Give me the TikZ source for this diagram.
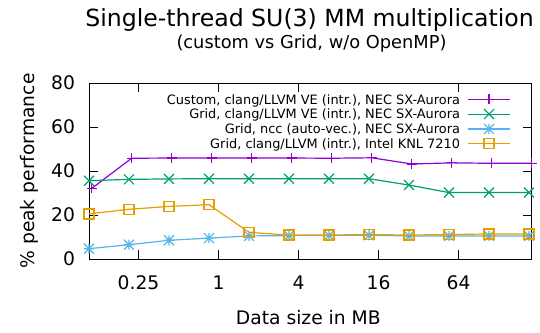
\documentclass[tikz,border=0pt]{standalone}
\usepackage{fontspec}
\setmainfont{DejaVu Sans}
\usetikzlibrary{plotmarks}

\definecolor{gpviolet}{HTML}{9400D3}
\definecolor{gpgreen}{HTML}{009E73}
\definecolor{gpblue}{HTML}{56B4E9}
\definecolor{gporange}{HTML}{E69F00}

\pgfdeclareplotmark{gpstar}{%
  \pgfpathmoveto{\pgfqpoint{-\pgfplotmarksize}{0pt}}%
  \pgfpathlineto{\pgfqpoint{\pgfplotmarksize}{0pt}}%
  \pgfpathmoveto{\pgfqpoint{0pt}{-\pgfplotmarksize}}%
  \pgfpathlineto{\pgfqpoint{0pt}{\pgfplotmarksize}}%
  \pgfpathmoveto{\pgfqpoint{-\pgfplotmarksize}{-\pgfplotmarksize}}%
  \pgfpathlineto{\pgfqpoint{\pgfplotmarksize}{\pgfplotmarksize}}%
  \pgfpathmoveto{\pgfqpoint{-\pgfplotmarksize}{\pgfplotmarksize}}%
  \pgfpathlineto{\pgfqpoint{\pgfplotmarksize}{-\pgfplotmarksize}}%
  \pgfusepathqstroke}

\begin{document}
\begin{tikzpicture}[
x=1pt, y=-1pt,
every node/.style={
inner sep=0pt,
outer sep=0pt
},
ticklabel/.style={font=\fontsize{18.7}{22}\selectfont},
keylabel/.style={font=\fontsize{12.9}{15}\selectfont, anchor=base east},
custom/.style={gpviolet, line width=1.2pt, mark=+, mark size=5pt},
gridve/.style={gpgreen, line width=1.2pt, mark=x, mark size=7pt},
gridncc/.style={gpblue, line width=1.2pt, mark=gpstar, mark size=5pt},
gridknl/.style={gporange, line width=1.2pt, mark=square, mark size=5pt}
]

\useasboundingbox (0,0) rectangle (540,332);

\node[font=\fontsize{23.6}{28}\selectfont, anchor=base] (title) at (309.5,26)
{Single-thread SU(3) MM multiplication};

\node[font=\fontsize{17.8}{21}\selectfont, anchor=base] (subtitle) at (311.5,48.5)
{(custom vs Grid, w/o OpenMP)};

\node[ticklabel, anchor=base, rotate=90] (ylabel) at (34,171)
{\% peak performance};

\node[ticklabel, anchor=base] (xlabel) at (308.3,324.3)
{Data size in MB};

\begin{scope}[shift={(218.5,259)}, x=40pt, y=2.2pt]

\draw[line width=1pt] (-3.2375,0) rectangle (7.83,80);

\foreach \v in {0,20,...,80} {
\draw[line width=1pt] (-3.2375,\v) -- ++(9pt,0);
\draw[line width=1pt] (7.83,\v) -- ++(-9pt,0);
\node[ticklabel, anchor=base east, xshift=-14pt, yshift=-6.8pt] (yt\v) at (-3.2375,\v) {\v};
}

\foreach \u/\t/\n in {-2/0.25/a,0/1/b,2/4/c,4/16/d,6/64/e} {
\draw[line width=1pt] (\u,0) -- ++(0,9pt);
\node[ticklabel, anchor=base, yshift=-30.5pt] (xt\n) at (\u,0) {\t};
}
\foreach \u in {-2,0,2,6}
\draw[line width=1pt] (\u,80) -- ++(0,-9pt);

\draw[custom] plot coordinates {
(-3.17,32.1) (-2.17,45.8) (-1.17,45.9) (-0.17,45.9) (0.83,45.9) (1.83,45.9)
(2.83,45.8) (3.83,46.0) (4.83,43.2) (5.83,43.7) (6.83,43.5) (7.83,43.5)};

\draw[gridve] plot coordinates {
(-3.2375,35.6) (-2.2375,36.2) (-1.2375,36.4) (-0.2375,36.5) (0.7625,36.5) (1.7625,36.5)
(2.7625,36.5) (3.7625,36.5) (4.7625,33.6) (5.7625,30.2) (6.7625,30.2) (7.7625,30.2)};

\draw[gridncc] plot coordinates {
(-3.2375,4.7) (-2.2375,6.5) (-1.2375,8.5) (-0.2375,9.5) (0.7625,10.5) (1.7625,10.6)
(2.7625,10.7) (3.7625,10.8) (4.7625,10.5) (5.7625,10.5) (6.7625,10.5) (7.7625,10.5)};

\draw[gridknl] plot coordinates {
(-3.2375,20.5) (-2.2375,22.6) (-1.2375,23.9) (-0.2375,24.7) (0.7625,12.1) (1.7625,10.9)
(2.7625,10.9) (3.7625,11.1) (4.7625,10.9) (5.7625,11.1) (6.7625,11.4) (7.7625,11.4)};

\end{scope}

\node[keylabel] (kcustom) at (460,104)
{Custom, clang/LLVM VE (intr.), NEC SX-Aurora};
\draw[custom, mark indices={2}] plot coordinates {(468,99.3) (489,99.3) (510,99.3)};

\node[keylabel] (kgridve) at (460,118.8)
{Grid, clang/LLVM VE (intr.), NEC SX-Aurora};
\draw[gridve, mark indices={2}] plot coordinates {(468,114.1) (489,114.1) (510,114.1)};

\node[keylabel] (kgridncc) at (460,133.6)
{Grid, ncc (auto-vec.), NEC SX-Aurora};
\draw[gridncc, mark indices={2}] plot coordinates {(468,128.9) (489,128.9) (510,128.9)};

\node[keylabel] (kgridknl) at (460,148.4)
{Grid, clang/LLVM (intr.), Intel KNL 7210};
\draw[gridknl, mark indices={2}] plot coordinates {(468,143.7) (489,143.7) (510,143.7)};

\end{tikzpicture}
\end{document}
